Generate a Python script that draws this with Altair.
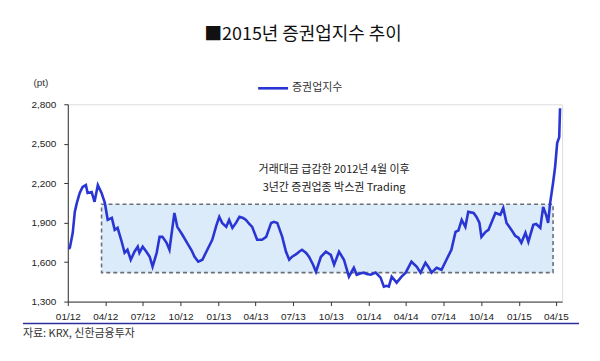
import altair as alt
import pandas as pd

# ---- series: 증권업지수 ----
dates = [
    "2012-01-03", "2012-01-06", "2012-01-13", "2012-01-18", "2012-01-23", "2012-01-30",
    "2012-02-06", "2012-02-14", "2012-02-18", "2012-02-28", "2012-03-06", "2012-03-14",
    "2012-03-23", "2012-03-31", "2012-04-07", "2012-04-17", "2012-04-24", "2012-05-01",
    "2012-05-11", "2012-05-18", "2012-05-25", "2012-06-02", "2012-06-11", "2012-06-19",
    "2012-06-23", "2012-07-01", "2012-07-10", "2012-07-18", "2012-07-25", "2012-08-04",
    "2012-08-11", "2012-08-18", "2012-08-28", "2012-09-04", "2012-09-16", "2012-09-23",
    "2012-10-05", "2012-10-18", "2012-10-27", "2012-11-04", "2012-11-13", "2012-11-23",
    "2012-12-05", "2012-12-17", "2012-12-27", "2013-01-03", "2013-01-10", "2013-01-20",
    "2013-01-27", "2013-02-04", "2013-02-13", "2013-02-21", "2013-03-02", "2013-03-09",
    "2013-03-17", "2013-03-24", "2013-04-05", "2013-04-17", "2013-04-27", "2013-05-09",
    "2013-05-16", "2013-05-24", "2013-06-05", "2013-06-14", "2013-06-22", "2013-06-29",
    "2013-07-09", "2013-07-16", "2013-07-23", "2013-08-02", "2013-08-09", "2013-08-19",
    "2013-08-26", "2013-09-07", "2013-09-19", "2013-10-01", "2013-10-09", "2013-10-21",
    "2013-11-02", "2013-11-14", "2013-11-26", "2013-12-03", "2013-12-13", "2013-12-20",
    "2013-12-27", "2014-01-06", "2014-01-18", "2014-01-30", "2014-02-07", "2014-02-14",
    "2014-02-19", "2014-02-26", "2014-03-10", "2014-03-22", "2014-04-01", "2014-04-15",
    "2014-04-28", "2014-05-07", "2014-05-19", "2014-05-27", "2014-06-03", "2014-06-15",
    "2014-06-27", "2014-07-09", "2014-07-21", "2014-07-31", "2014-08-07", "2014-08-15",
    "2014-08-24", "2014-08-31", "2014-09-13", "2014-09-20", "2014-09-27", "2014-10-02",
    "2014-10-12", "2014-10-19", "2014-10-26", "2014-11-05", "2014-11-17", "2014-11-24",
    "2014-12-02", "2014-12-14", "2014-12-23", "2014-12-31", "2015-01-07", "2015-01-17",
    "2015-01-24", "2015-02-05", "2015-02-12", "2015-02-22", "2015-03-01", "2015-03-08",
    "2015-03-13", "2015-03-18", "2015-03-25", "2015-03-30", "2015-04-04", "2015-04-09",
    "2015-04-11",
]
values = [
    1700, 1710, 1823, 1982, 2050, 2126,
    2171, 2186, 2126, 2133, 2058, 2186,
    2126, 2050, 1921, 1936, 1845, 1860,
    1755, 1671, 1694, 1618, 1679, 1717,
    1671, 1717, 1679, 1641, 1565, 1671,
    1792, 1792, 1747, 1694, 1974, 1868,
    1810, 1740, 1694, 1641, 1603, 1618,
    1694, 1770, 1880, 1944, 1898, 1868,
    1921, 1860, 1900, 1944, 1935, 1921,
    1890, 1868, 1770, 1770, 1792, 1898,
    1906, 1898, 1792, 1680, 1618, 1641,
    1660, 1679, 1694, 1670, 1641, 1580,
    1527, 1641, 1679, 1655, 1580, 1679,
    1618, 1489, 1557, 1504, 1515, 1520,
    1510, 1504, 1520, 1482, 1414, 1420,
    1414, 1489, 1444, 1490, 1520, 1603,
    1565, 1520, 1595, 1560, 1520, 1557,
    1542, 1618, 1694, 1830, 1840, 1921,
    1868, 1982, 1974, 1944, 1900, 1792,
    1830, 1845, 1898, 1974, 1960, 2012,
    1898, 1845, 1800, 1785, 1747, 1823,
    1755, 1883, 1890, 1860, 2020, 1960,
    1898, 2050, 2201, 2323, 2505, 2550,
    2770,
]

# ---- box range ----
box_start = ["2012-03-23"]
box_end = ["2015-03-25"]
box_low = [1520]
box_high = [2040]

# ---- annotation ----
note_lines = ["거래대금 급감한 2012년 4월 이후", "3년간 증권업종 박스권 Trading"]
note_dates = ["2013-10-09", "2013-10-09"]
note_values = [2300, 2160]

# ---- axis ----
y_ticks = [1300, 1600, 1900, 2200, 2500, 2800]
x_tick_dates = ["2012-01-01", "2012-04-01", "2012-07-01", "2012-10-01",
                "2013-01-01", "2013-04-01", "2013-07-01", "2013-10-01",
                "2014-01-01", "2014-04-01", "2014-07-01", "2014-10-01",
                "2015-01-01", "2015-04-01"]

title_text = "■2015년 증권업지수 추이"
series_name = "증권업지수"
unit_text = "(pt)"
source_text = "자료: KRX, 신한금융투자"

W, H = 496, 198
KFONT = "Noto Sans CJK KR"
LFONT = "Liberation Sans"
LINE_COLOR = "#2a36d4"

df = pd.DataFrame({"date": dates, "value": values})
box_df = pd.DataFrame({"start": box_start, "end": box_end, "low": box_low, "high": box_high})
note_df = pd.DataFrame({"date": note_dates, "value": note_values, "text": note_lines})

x_scale = alt.Scale(domain=["2012-01-01", "2015-04-16"])
y_scale = alt.Scale(domain=[1300, 2800], nice=False, zero=False)

x_axis = alt.Axis(
    values=[alt.DateTime(year=int(d[:4]), month=int(d[5:7]), date=1) for d in x_tick_dates],
    format="%m/%y", title=None, grid=False, labelFont=LFONT, labelFontSize=10,
    labelColor="#222", domainColor="#333", tickColor="#333", tickSize=4,
    labelPadding=6, labelFlush=False, labelOverlap=False, labelBound=False,
)
y_axis = alt.Axis(
    values=y_ticks, format=",.0f", title=None, grid=False, labelFont=LFONT,
    labelFontSize=10, labelColor="#222", domainColor="#333", tickColor="#333",
    tickSize=4, labelPadding=8, labelOverlap=False, labelFlush=False, labelBound=False,
)

box = alt.Chart(box_df).mark_rect(
    fill="#dcebfa", stroke="#6b6f78", strokeWidth=1.6, strokeDash=[4, 3]
).encode(
    x=alt.X("start:T", scale=x_scale, axis=x_axis),
    x2="end:T",
    y=alt.Y("low:Q", scale=y_scale, axis=y_axis),
    y2="high:Q",
)

line = alt.Chart(df).mark_line(color=LINE_COLOR, strokeWidth=2.6).encode(
    x=alt.X("date:T", scale=x_scale, axis=x_axis),
    y=alt.Y("value:Q", scale=y_scale, axis=y_axis),
)

notes = alt.Chart(note_df).mark_text(
    font=KFONT, fontSize=11, color="#222", align="center", baseline="middle"
).encode(
    x=alt.X("date:T", scale=x_scale, axis=x_axis),
    y=alt.Y("value:Q", scale=y_scale, axis=y_axis),
    text="text:N",
)

one = pd.DataFrame({"k": [0]})

title = alt.Chart(one).mark_text(
    text=title_text, font=KFONT, fontSize=18, fontWeight="normal", color="#111",
    align="center", baseline="middle"
).encode(x=alt.value(236), y=alt.value(-69))

legend_line = alt.Chart(one).mark_rule(color=LINE_COLOR, strokeWidth=2.6).encode(
    x=alt.value(191), x2=alt.value(221), y=alt.value(-16)
)
legend_text = alt.Chart(one).mark_text(
    text=series_name, font=KFONT, fontSize=11, color="#333", align="left", baseline="middle"
).encode(x=alt.value(225), y=alt.value(-16))

unit = alt.Chart(one).mark_text(
    text=unit_text, font=LFONT, fontSize=10, color="#333", align="center", baseline="middle"
).encode(x=alt.value(-27), y=alt.value(-21))

bottom_rule = alt.Chart(one).mark_rule(color="#2a2f9a", strokeWidth=1.5).encode(
    x=alt.value(-45), x2=alt.value(513), y=alt.value(220)
)
source = alt.Chart(one).mark_text(
    text=source_text, font=KFONT, fontSize=11, color="#333", align="left", baseline="middle"
).encode(x=alt.value(-45), y=alt.value(231))

chart = alt.layer(
    box, line, notes, title, legend_line, legend_text, unit, bottom_rule, source
).properties(
    width=W, height=H,
    padding={"left": 60, "top": 96, "right": 30, "bottom": 50},
    autosize=alt.AutoSizeParams(type="none"),
).configure_view(stroke=None).configure_axis(
    labelOverlap=False
).configure(background="white")

chart.save("out.html", embed_options={"renderer": "svg", "actions": False})
